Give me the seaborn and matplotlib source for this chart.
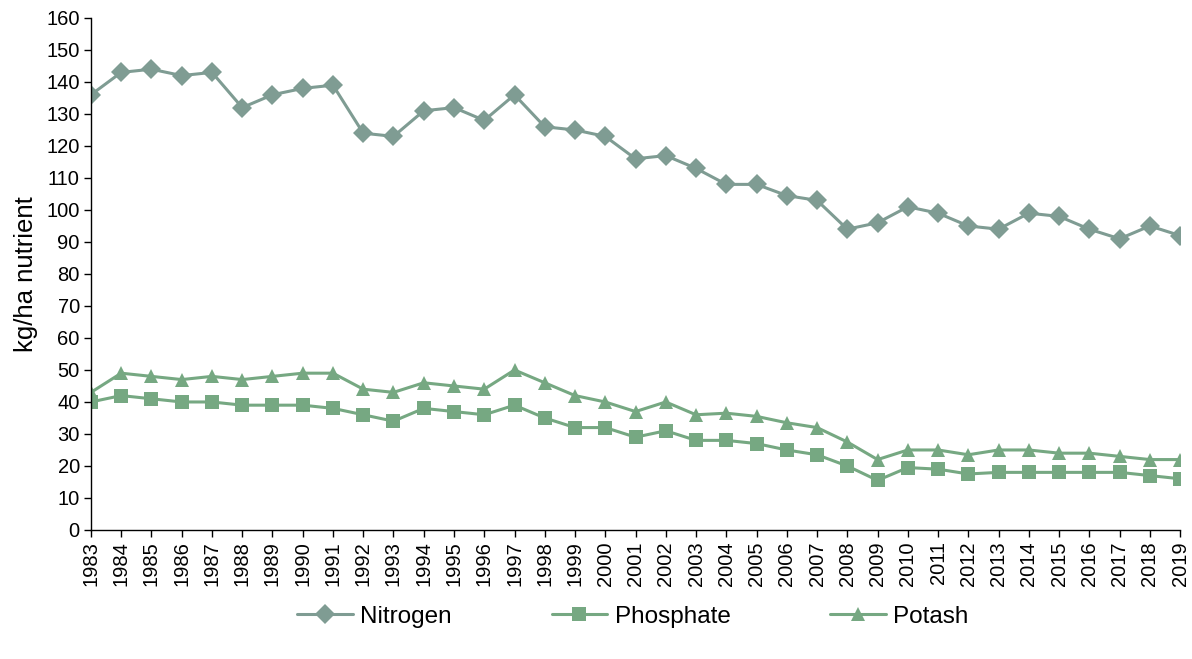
import pandas as pd
import seaborn as sns
import matplotlib.pyplot as plt

years = list(range(1983, 2020))
nitrogen = [136, 143, 144, 142, 143, 132, 136, 138, 139, 124, 123, 131, 132, 128, 136, 126,
            125, 123, 116, 117, 113, 108, 108, 104.5, 103, 94, 96, 101, 99, 95, 94, 99, 98,
            94, 91, 95, 92]
phosphate = [40, 42, 41, 40, 40, 39, 39, 39, 38, 36, 34, 38, 37, 36, 39, 35, 32, 32, 29, 31,
             28, 28, 27, 25, 23.5, 20, 15.5, 19.5, 19, 17.5, 18, 18, 18, 18, 18, 17, 16]
potash = [43, 49, 48, 47, 48, 47, 48, 49, 49, 44, 43, 46, 45, 44, 50, 46, 42, 40, 37, 40,
          36, 36.5, 35.5, 33.5, 32, 27.5, 22, 25, 25, 23.5, 25, 25, 24, 24, 23, 22, 22]

colors = {"Nitrogen": "#7f9c93", "Phosphate": "#76a882", "Potash": "#76a882"}
markers = {"Nitrogen": "D", "Phosphate": "s", "Potash": "^"}

df = pd.DataFrame({"year": years, "Nitrogen": nitrogen,
                   "Phosphate": phosphate, "Potash": potash})
long = df.melt(id_vars="year", var_name="nutrient", value_name="value")

sns.set_style("ticks")
plt.rcParams['font.family'] = ['Liberation Sans', 'DejaVu Sans']
plt.rcParams['text.color'] = 'black'
plt.rcParams['axes.labelcolor'] = 'black'
plt.rcParams['xtick.color'] = 'black'
plt.rcParams['ytick.color'] = 'black'

fig = plt.figure(figsize=(11.92, 6.59), dpi=100)
ax = fig.add_axes([0.0763, 0.1958, 0.9137, 0.7769])

sns.lineplot(data=long, x="year", y="value", hue="nutrient", style="nutrient",
             palette=colors, markers=markers, dashes=False, markersize=10,
             linewidth=2.2, markeredgewidth=0, ax=ax, legend=True)

ax.set_xlim(1983, 2019)
ax.set_ylim(0, 160)
ax.set_yticks(range(0, 161, 10))
ax.set_xticks(years)
ax.set_xticklabels([str(y) for y in years], rotation=90)
ax.tick_params(axis="both", labelsize=14.5, length=5, width=1, color="black",
               labelcolor="black", pad=3)
ax.set_xlabel("")
ax.set_ylabel("kg/ha nutrient", fontsize=18.5, labelpad=6)
for side in ["top", "right"]:
    ax.spines[side].set_visible(False)
for side in ["left", "bottom"]:
    ax.spines[side].set_color("black")
    ax.spines[side].set_linewidth(1)

handles, labels = ax.get_legend_handles_labels()
ax.get_legend().remove()
fig.legend(handles, labels, loc="center", bbox_to_anchor=(0.531, 0.064), ncol=3,
           frameon=False, fontsize=17.5, columnspacing=4.1, handlelength=2.3,
           handletextpad=0.3)

fig.savefig("out.png", dpi=100)
